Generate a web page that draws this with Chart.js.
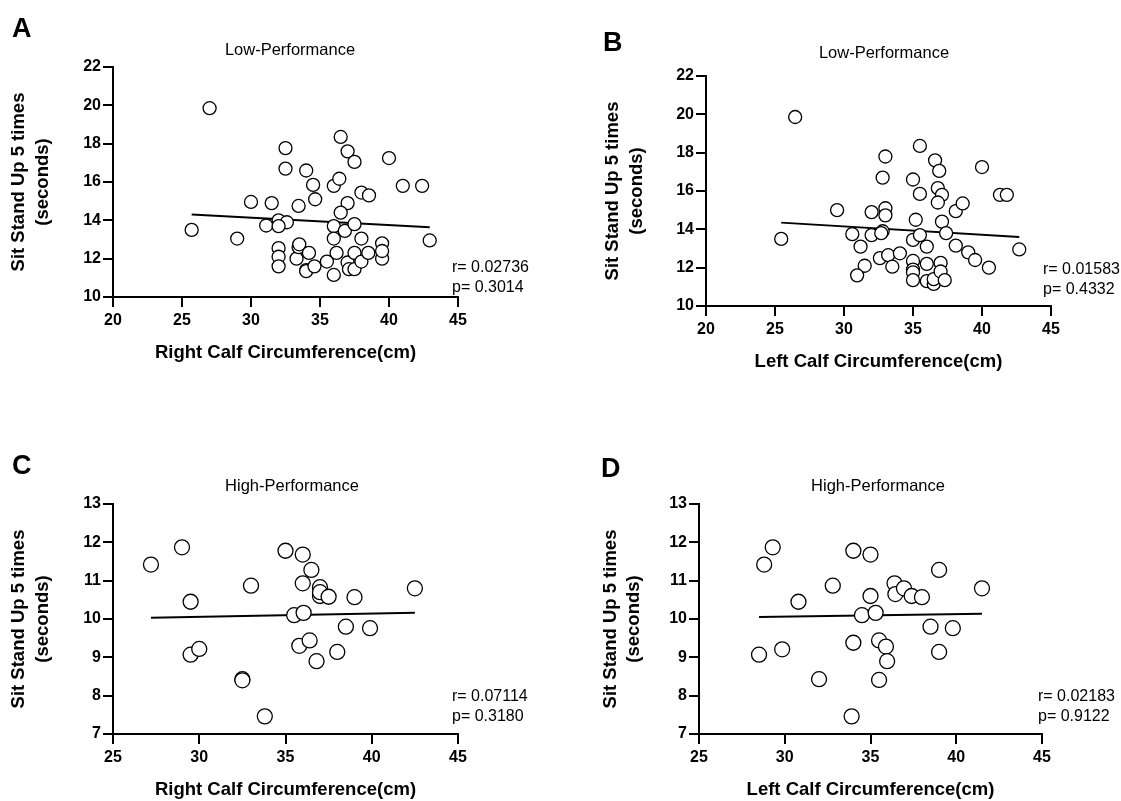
<!DOCTYPE html>
<html>
<head>
<meta charset="utf-8">
<script src="https://cdn.jsdelivr.net/npm/chart.js@4.4.1/dist/chart.umd.min.js"></script>
<style>
  html, body { margin: 0; padding: 0; background: #fff; }
  body { width: 1121px; height: 801px; position: relative; overflow: hidden; font-family: "Liberation Sans", Arial, sans-serif; color: #000; }
  canvas { position: absolute; }
  .txt { position: absolute; white-space: nowrap; }
  .letter { font-weight: bold; font-size: 27px; line-height: 30px; }
  .ptitle { font-size: 16.5px; line-height: 20px; transform: translateX(-50%); }
  .stat { font-size: 16px; line-height: 20px; }
</style>
</head>
<body>
<canvas id="chartA" width="560" height="400" style="left:0;top:0"></canvas>
<canvas id="chartB" width="561" height="400" style="left:560px;top:0"></canvas>
<canvas id="chartC" width="560" height="401" style="left:0;top:400px"></canvas>
<canvas id="chartD" width="561" height="401" style="left:560px;top:400px"></canvas>

<div class="txt letter" style="left:12px;top:13px">A</div>
<div class="txt letter" style="left:603px;top:27px">B</div>
<div class="txt letter" style="left:12px;top:450px">C</div>
<div class="txt letter" style="left:601px;top:453px">D</div>

<div class="txt ptitle" style="left:290px;top:39px">Low-Performance</div>
<div class="txt ptitle" style="left:884px;top:42px">Low-Performance</div>
<div class="txt ptitle" style="left:292px;top:475px">High-Performance</div>
<div class="txt ptitle" style="left:878px;top:475px">High-Performance</div>

<div class="txt stat" id="statA" style="left:452px;top:257px"></div>
<div class="txt stat" id="statB" style="left:1043px;top:259px"></div>
<div class="txt stat" id="statC" style="left:452px;top:686px"></div>
<div class="txt stat" id="statD" style="left:1038px;top:686px"></div>

<script>
// Low-Performance group, right calf (A)
const lowRightCalf = [27.0, 25.7, 29.0, 30.0, 31.5, 31.1, 32.0, 32.6, 32.0, 32.5, 32.5, 32.0, 32.0, 32.0, 33.3, 33.45, 33.5, 34.2, 34.0, 34.0, 34.6, 33.45, 34.0, 34.5, 34.65, 35.5, 36.0, 36.0, 36.4, 36.5, 37.0, 37.5, 37.0, 36.5, 36.0, 36.0, 36.8, 37.5, 38.0, 38.0, 38.55, 36.2, 37.0, 37.1, 37.5, 37.5, 38.0, 38.5, 39.5, 39.5, 39.5, 40.0, 41.0, 42.4, 42.95];
const lowRightSitStand = [19.85, 13.5, 13.05, 14.96, 14.9, 13.73, 14.0, 13.9, 13.7, 17.77, 16.7, 12.55, 12.1, 11.6, 12.0, 12.6, 12.75, 12.3, 11.4, 11.35, 11.6, 14.75, 16.6, 15.85, 15.1, 11.85, 11.15, 15.8, 16.17, 18.35, 17.6, 17.05, 14.9, 14.4, 13.7, 13.05, 13.45, 13.8, 13.05, 15.45, 15.3, 12.3, 11.8, 11.45, 12.3, 11.45, 11.85, 12.3, 12.8, 12.0, 12.4, 17.25, 15.8, 15.8, 12.95];

// Low-Performance group, left calf (B)
const lowLeftCalf = [26.46, 25.45, 29.5, 30.6, 31.2, 31.5, 30.95, 32.0, 32.0, 32.8, 33.0, 33.0, 33.0, 32.8, 32.7, 32.6, 33.2, 33.5, 34.05, 35.0, 35.5, 35.5, 35.2, 35.0, 35.5, 36.0, 35.0, 35.0, 35.0, 35.0, 36.0, 36.0, 36.5, 36.5, 37.0, 37.0, 37.3, 36.6, 36.9, 36.8, 37.1, 36.8, 37.1, 37.4, 38.1, 38.1, 38.6, 39.0, 39.5, 40.5, 40.0, 41.3, 41.8, 42.7];
const lowLeftSitStand = [19.86, 13.5, 15.0, 13.75, 13.1, 12.1, 11.6, 13.7, 14.9, 16.7, 17.8, 15.1, 14.73, 13.9, 13.8, 12.5, 12.65, 12.05, 12.75, 16.6, 18.35, 15.85, 14.5, 13.45, 13.7, 13.1, 12.35, 11.9, 11.75, 11.35, 12.2, 11.3, 11.15, 11.4, 12.25, 11.8, 11.35, 17.6, 17.05, 16.15, 15.8, 15.4, 14.4, 13.8, 13.15, 14.95, 15.35, 12.8, 12.4, 12.0, 17.25, 15.8, 15.8, 12.95];

// High-Performance group, right calf (C)
const highRightCalf = [27.2, 29.0, 29.5, 29.5, 30.0, 32.5, 32.5, 33.0, 33.8, 35.0, 36.0, 36.5, 36.0, 37.0, 37.0, 37.0, 37.5, 39.0, 42.5, 35.5, 36.05, 38.5, 39.9, 35.8, 36.4, 36.8, 38.0];
const highRightSitStand = [11.42, 11.87, 10.45, 9.07, 9.22, 8.43, 8.4, 10.87, 7.46, 11.78, 11.68, 11.28, 10.93, 10.83, 10.6, 10.7, 10.58, 10.57, 10.8, 10.1, 10.16, 9.8, 9.76, 9.3, 9.44, 8.9, 9.14];

// High-Performance group, left calf (D)
const highLeftCalf = [28.5, 28.8, 29.3, 29.85, 30.8, 32.0, 32.8, 33.9, 34.0, 34.0, 34.5, 35.0, 35.0, 35.3, 35.5, 35.9, 35.97, 35.5, 36.4, 36.45, 36.95, 37.4, 38.0, 38.5, 39.0, 39.0, 39.8, 41.5];
const highLeftSitStand = [9.07, 11.42, 11.87, 9.21, 10.45, 8.43, 10.87, 7.46, 11.78, 9.38, 10.1, 11.68, 10.6, 10.16, 9.44, 9.28, 8.9, 8.41, 10.93, 10.65, 10.8, 10.6, 10.57, 9.8, 11.28, 9.14, 9.76, 10.8];

// regression line end points
const fitLowRightX = [25.7, 42.95];
const fitLowRightY = [14.3, 13.64];
const fitLowLeftX = [25.45, 42.7];
const fitLowLeftY = [14.35, 13.6];
const fitHighRightX = [27.2, 42.5];
const fitHighRightY = [10.03, 10.16];
const fitHighLeftX = [28.5, 41.5];
const fitHighLeftY = [10.05, 10.14];

// axis ranges: [min, max, step]
const lowYTicks = [10, 22, 2];
const highYTicks = [7, 13, 1];
const lowXTicks = [20, 45, 5];
const highXTicks = [25, 45, 5];

const statR = ['0.02736', '0.01583', '0.07114', '0.02183'];
const statP = ['0.3014', '0.4332', '0.3180', '0.9122'];

const yTitle = ['Sit Stand Up 5 times', '(seconds)'];

function toPoints(xs, ys) {
    return xs.map((x, i) => ({ x: x, y: ys[i] }));
}

function makePanel(id, p) {
    const ctx = document.getElementById(id);
    new Chart(ctx.getContext('2d'), {
        type: 'scatter',
        data: {
            datasets: [{
                data: toPoints(p.xs, p.ys),
                backgroundColor: '#ffffff',
                borderColor: '#000000',
                borderWidth: 1.3,
                pointRadius: p.radius,
                clip: false
            }, {
                type: 'line',
                data: toPoints(p.fitX, p.fitY),
                borderColor: '#000000',
                borderWidth: 2,
                pointRadius: 0,
                fill: false
            }]
        },
        options: {
            responsive: false,
            animation: false,
            layout: {
                padding: { left: 0, top: p.padTop, right: p.padRight, bottom: p.padBottom }
            },
            plugins: {
                legend: { display: false },
                tooltip: { enabled: false }
            },
            scales: {
                x: {
                    type: 'linear',
                    min: p.xTicks[0],
                    max: p.xTicks[1],
                    afterFit: function(scale) { scale.height = 67; },
                    ticks: {
                        stepSize: p.xTicks[2],
                        color: '#000',
                        padding: 4,
                        font: { family: 'Liberation Sans', size: 16, weight: 'bold' }
                    },
                    grid: { drawOnChartArea: false, drawTicks: true, tickLength: 10, color: '#000', lineWidth: 2 },
                    border: { display: true, color: '#000', width: 2 },
                    title: {
                        display: true,
                        text: p.xLabel,
                        color: '#000',
                        padding: { top: 0, bottom: 0 },
                        font: { family: 'Liberation Sans', size: 18.5, weight: 'bold', lineHeight: 1.2 }
                    }
                },
                y: {
                    min: p.yTicks[0],
                    max: p.yTicks[1],
                    afterFit: function(scale) { scale.width = p.yWidth; },
                    ticks: {
                        stepSize: p.yTicks[2],
                        color: '#000',
                        padding: 2,
                        font: { family: 'Liberation Sans', size: 16, weight: 'bold' }
                    },
                    grid: { drawOnChartArea: false, drawTicks: true, tickLength: 10, color: '#000', lineWidth: 2 },
                    border: { display: true, color: '#000', width: 2 },
                    title: {
                        display: true,
                        text: yTitle,
                        color: '#000',
                        padding: { top: p.yTitlePad, bottom: 0 },
                        font: { family: 'Liberation Sans', size: 18.5, weight: 'bold', lineHeight: 1.26 }
                    }
                }
            }
        }
    });
}

document.addEventListener('DOMContentLoaded', function() {
    makePanel('chartA', {
        xs: lowRightCalf, ys: lowRightSitStand, fitX: fitLowRightX, fitY: fitLowRightY,
        xTicks: lowXTicks, yTicks: lowYTicks, xLabel: 'Right Calf Circumference(cm)',
        radius: 6.5, yWidth: 113, yTitlePad: 7.6, padTop: 67, padRight: 102, padBottom: 36
    });
    makePanel('chartB', {
        xs: lowLeftCalf, ys: lowLeftSitStand, fitX: fitLowLeftX, fitY: fitLowLeftY,
        xTicks: lowXTicks, yTicks: lowYTicks, xLabel: 'Left Calf Circumference(cm)',
        radius: 6.5, yWidth: 146, yTitlePad: 41.7, padTop: 76, padRight: 70, padBottom: 27
    });
    makePanel('chartC', {
        xs: highRightCalf, ys: highRightSitStand, fitX: fitHighRightX, fitY: fitHighRightY,
        xTicks: highXTicks, yTicks: highYTicks, xLabel: 'Right Calf Circumference(cm)',
        radius: 7.5, yWidth: 113, yTitlePad: 7.6, padTop: 104, padRight: 102, padBottom: 0
    });
    makePanel('chartD', {
        xs: highLeftCalf, ys: highLeftSitStand, fitX: fitHighLeftX, fitY: fitHighLeftY,
        xTicks: highXTicks, yTicks: highYTicks, xLabel: 'Left Calf Circumference(cm)',
        radius: 7.5, yWidth: 139, yTitlePad: 39, padTop: 104, padRight: 79, padBottom: 0
    });

    ['statA', 'statB', 'statC', 'statD'].forEach((id, i) => {
        document.getElementById(id).innerHTML = 'r= ' + statR[i] + '<br>p= ' + statP[i];
    });
});
</script>
</body>
</html>
